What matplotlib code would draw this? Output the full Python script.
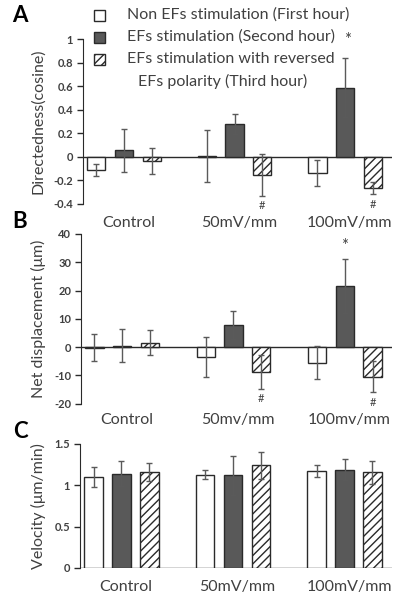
import matplotlib
matplotlib.use("Agg")
import matplotlib.pyplot as plt
from matplotlib.patches import Rectangle
import numpy as np

plt.rcParams['font.family'] = ['Lato', 'DejaVu Sans']
plt.rcParams['hatch.linewidth'] = 1.0

groups = ["Control", "50mV/mm", "100mV/mm"]
groups_b = ["Control", "50mv/mm", "100mv/mm"]
legend_labels = ["Non EFs stimulation (First hour)",
                 "EFs stimulation (Second hour)",
                 "EFs stimulation with reversed"]

# A: directedness
dir_first = [-0.11, 0.005, -0.135]
dir_first_err = [0.05, 0.22, 0.11]
dir_second = [0.055, 0.28, 0.585]
dir_second_err = [0.18, 0.085, 0.25]
dir_third = [-0.035, -0.155, -0.265]
dir_third_err = [0.11, 0.18, 0.05]

# B: net displacement
disp_first = [-0.3, -3.5, -5.5]
disp_first_err = [4.8, 7.0, 6.0]
disp_second = [0.4, 7.8, 21.5]
disp_second_err = [5.8, 4.8, 9.5]
disp_third = [1.5, -8.8, -10.6]
disp_third_err = [4.4, 6.0, 5.5]

# C: velocity
vel_first = [1.10, 1.13, 1.17]
vel_first_err = [0.12, 0.05, 0.07]
vel_second = [1.14, 1.12, 1.19]
vel_second_err = [0.15, 0.24, 0.13]
vel_third = [1.16, 1.24, 1.16]
vel_third_err = [0.11, 0.16, 0.14]

TXT = "#404040"
DARK = "#595959"
EDGE = "#2a2a2a"
ERR = "#5a5a5a"
FS = 11.5

W, H = 404, 601
fig = plt.figure(figsize=(W / 100, H / 100), dpi=100)


def ax_px(left, right, top, bottom):
    return fig.add_axes([left / W, 1 - bottom / H, (right - left) / W, (bottom - top) / H])


def draw_bars(ax, series, errs, ylim, yticks, ticklabels):
    x = np.arange(3)
    off = 0.25
    wd = 0.165
    styles = [dict(color="white", edgecolor=EDGE),
              dict(color=DARK, edgecolor=EDGE),
              dict(color="white", edgecolor=EDGE, hatch="////")]
    for i, (vals, err, st) in enumerate(zip(series, errs, styles)):
        xi = x + (i - 1) * off
        ax.bar(xi, vals, width=wd, linewidth=1.0, zorder=2, **st)
        ax.errorbar(xi, vals, yerr=err, fmt="none", ecolor=ERR, elinewidth=1.0,
                    capsize=2.5, capthick=1.0, zorder=3)
    ax.set_xlim(-0.371, 2.425)
    ax.set_ylim(*ylim)
    ax.set_yticks(yticks)
    ax.set_yticklabels(ticklabels, fontsize=8, fontweight="bold", color=TXT)
    ax.tick_params(axis="y", direction="out", length=4, width=1, colors=EDGE, pad=3)
    for lab in ax.get_yticklabels():
        lab.set_color(TXT)
    ax.set_xticks([])
    for s in ["top", "right", "bottom"]:
        ax.spines[s].set_visible(False)
    ax.spines["left"].set_color(EDGE)
    ax.axhline(0, color=EDGE, linewidth=1.0, zorder=1)
    ax.patch.set_alpha(0)


# Panel A
axA = ax_px(83, 392, 39, 204)
draw_bars(axA, [dir_first, dir_second, dir_third],
          [dir_first_err, dir_second_err, dir_third_err],
          (-0.4, 1.0), [-0.4, -0.2, 0, 0.2, 0.4, 0.6, 0.8, 1],
          ["-0.4", "-0.2", "0", "0.2", "0.4", "0.6", "0.8", "1"])
axA.set_ylabel("Directedness(cosine)", fontsize=FS, color=TXT, labelpad=6)
for xi, yi in [(1 + 0.25, dir_third[1] - dir_third_err[1] - 0.03),
               (2 + 0.25, dir_third[2] - dir_third_err[2] - 0.04)]:
    axA.text(xi, yi, "#", ha="center", va="top", fontsize=8, color=TXT)

# Panel B
axB = ax_px(81, 392, 234, 403.5)
draw_bars(axB, [disp_first, disp_second, disp_third],
          [disp_first_err, disp_second_err, disp_third_err],
          (-20, 40), [-20, -10, 0, 10, 20, 30, 40],
          ["-20", "-10", "0", "10", "20", "30", "40"])
axB.set_ylabel("Net displacement (\u03bcm)", fontsize=FS, color=TXT, labelpad=6)
axB.text(2, disp_second[2] + disp_second_err[2] + 2.0, "*", ha="center", va="bottom",
         fontsize=12, color=TXT)
for xi, yi in [(1 + 0.25, disp_third[1] - disp_third_err[1] - 1.5),
               (2 + 0.25, disp_third[2] - disp_third_err[2] - 1.5)]:
    axB.text(xi, yi, "#", ha="center", va="top", fontsize=8, color=TXT, clip_on=False)

# Panel C
axC = ax_px(80, 392, 444, 568)
draw_bars(axC, [vel_first, vel_second, vel_third],
          [vel_first_err, vel_second_err, vel_third_err],
          (0, 1.5), [0, 0.5, 1, 1.5], ["0", "0.5", "1", "1.5"])
axC.set_ylabel("Velocity (\u03bcm/min)", fontsize=FS, color=TXT, labelpad=6)

# category labels (below each panel)
for ax, labs, ypx in [(axA, groups, 223), (axB, groups_b, 420), (axC, groups, 587)]:
    tr = matplotlib.transforms.blended_transform_factory(ax.transData, fig.transFigure)
    for i, lab in enumerate(labs):
        ax.text(i + 0.04, 1 - ypx / H, lab, transform=tr, fontsize=FS, color=TXT,
                ha="center", va="center")

# panel letters
for letter, ypx in [("A", 16), ("B", 222), ("C", 432)]:
    fig.text(20 / W, 1 - ypx / H, letter, fontsize=16, fontweight="bold", color="black",
             ha="center", va="center")

# legend
styles = [dict(facecolor="white"), dict(facecolor=DARK), dict(facecolor="white", hatch="////")]
for i, (lab, st) in enumerate(zip(legend_labels, styles)):
    yc = 15 + i * 22
    fig.patches.append(Rectangle(((99 - 5.5) / W, 1 - (yc + 5.5) / H), 11 / W, 11 / H,
                                 transform=fig.transFigure, edgecolor=EDGE, linewidth=1.0, **st))
    fig.text(127 / W, 1 - yc / H, lab, fontsize=FS, color=TXT, ha="left", va="center")
fig.text(138 / W, 1 - 81 / H, "EFs polarity (Third hour)", fontsize=FS, color=TXT,
         ha="left", va="center")
fig.text(348 / W, 1 - 40 / H, "*", fontsize=12, color=TXT, ha="center", va="center")

fig.savefig("out.png", dpi=100)
